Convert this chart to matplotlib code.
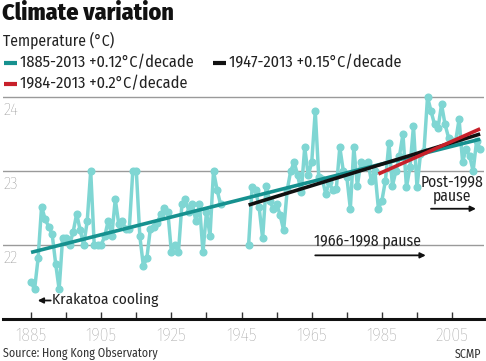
import numpy as np
import matplotlib
matplotlib.use("Agg")
import matplotlib.pyplot as plt
from matplotlib.lines import Line2D

FAM = ['Fira Sans Condensed', 'Roboto Condensed', 'PT Sans Narrow', 'Lato', 'DejaVu Sans']
plt.rcParams['font.family'] = FAM

# ---------------- data ----------------
years = list(range(1885, 2014))
temps = [
    21.50, 21.40, 21.82, 22.52, 22.35, 22.25, 22.15, 21.75, 21.40, 22.10,   # 1885-1894
    22.10, 22.00, 22.18, 22.42, 22.20, 22.00, 22.32, 23.00, 22.00, 22.00,   # 1895-1904
    22.00, 22.12, 22.33, 22.12, 22.62, 22.28, 22.32, 22.22, 22.22, 23.00,   # 1905-1914
    23.00, 22.12, 21.72, 21.82, 22.22, 22.24, 22.30, 22.42, 22.50, 22.44,   # 1915-1924
    21.90, 22.00, 21.90, 22.55, 22.62, 22.45, 22.55, 22.32, 22.55, 21.90,   # 1925-1934
    22.45, 22.12, 23.00, 22.75, 22.55, np.nan, np.nan, np.nan, np.nan, np.nan,  # 1935-1944
    np.nan, np.nan, 22.00, 22.78, 22.74, 22.51, 22.09, 22.80, 22.60, 22.49,  # 1945-1954
    22.56, 22.40, 22.20, 22.74, 23.00, 23.12, 22.94, 22.71, 23.32, 22.94,   # 1955-1964
    23.12, 23.81, 22.92, 22.89, 22.69, 22.85, 22.74, 22.76, 23.32, 23.00,   # 1965-1974
    22.92, 22.49, 23.32, 22.80, 23.12, 23.05, 23.12, 22.87, 23.00, 22.49,   # 1975-1984
    22.60, 22.87, 23.38, 22.80, 23.00, 23.20, 23.50, 22.78, 23.05, 23.61,   # 1985-1994
    22.78, 23.23, 23.27, 24.00, 23.81, 23.63, 23.58, 23.90, 23.63, 23.45,   # 1995-2004
    23.40, 23.40, 23.70, 23.12, 23.30, 23.20, 23.00, 23.41, 23.30,          # 2005-2013
]

trend_labels = ["1885-2013 +0.12°C/decade", "1947-2013 +0.15°C/decade", "1984-2013 +0.2°C/decade"]
trend_start_years = [1885, 1947, 1984]
trend_end_years = [2013, 2013, 2013]
trend_start_vals = [21.90, 22.54, 22.96]
trend_end_vals = [23.43, 23.50, 23.57]
trend_colors = ["#16918f", "#111111", "#c8202a"]

x_major = [1885, 1905, 1925, 1945, 1965, 1985, 2005]
x_minor = [1895, 1915, 1935, 1955, 1975, 1995]
y_grid = [22, 23, 24]

# ---------------- figure ----------------
W, H = 486, 361
fig = plt.figure(figsize=(W / 100, H / 100), dpi=100)

def fx(px):
    return px / W

def fy(py):
    return 1 - py / H

ax_left, ax_right = 3, 484
ax_bottom_px = 319
ax_top_px = 93.3
ax = fig.add_axes([fx(ax_left), fy(ax_bottom_px), fx(ax_right - ax_left), fy(ax_top_px) - fy(ax_bottom_px)])
ax.set_xlim(1877.0, 2014.1)
ax.set_ylim(21.0, 24.05)

# grid lines
for g in y_grid:
    ax.axhline(g, color="#9a9a9a", lw=1.0, zorder=1)
    ax.text(0.0, g - 0.075, str(g), transform=ax.get_yaxis_transform(), ha="left", va="top",
            fontsize=12.5, color="#8a8a8a", fontweight="light")

# data line
ax.plot(years, temps, color="#7fd6d3", lw=2.5, marker="o", ms=4.8, mfc="#7fd6d3", mec="#7fd6d3",
        zorder=3, clip_on=False)

# trend lines
for s, e, sv, ev, c in zip(trend_start_years, trend_end_years, trend_start_vals, trend_end_vals, trend_colors):
    ax.plot([s, e], [sv, ev], color=c, lw=2.6, solid_capstyle="butt", zorder=4)

# axes styling
for sp in ["top", "left", "right"]:
    ax.spines[sp].set_visible(False)
ax.spines["bottom"].set_color("#111111")
ax.spines["bottom"].set_linewidth(2.2)
ax.set_yticks([])
ax.set_xticks(x_major)
ax.set_xticklabels([str(v) for v in x_major])
ax.set_xticks(x_minor, minor=True)
ax.tick_params(axis="x", which="both", direction="in", length=5, width=1.0, color="#333333",
               labelsize=13, labelcolor="#999999", pad=6)
for lbl in ax.get_xticklabels():
    lbl.set_fontweight("light")
ax.patch.set_alpha(0)

# annotations
TXT = "#222222"
arrow_kw = dict(arrowstyle="-|>", color="#111111", lw=1.3, mutation_scale=8, shrinkA=0, shrinkB=0)
ax.annotate("", xy=(1886.9, 21.25), xytext=(1890.6, 21.25), arrowprops=arrow_kw)
ax.text(1891.0, 21.26, "Krakatoa cooling", ha="left", va="center", fontsize=11.1, color=TXT)

ax.text(1980.9, 22.06, "1966-1998 pause", ha="center", va="center", fontsize=11.3, color=TXT)
ax.annotate("", xy=(1997.5, 21.86), xytext=(1966.0, 21.86), arrowprops=arrow_kw)

ax.text(2004.9, 22.97, "Post-1998\npause", ha="center", va="top", fontsize=11.2, color=TXT,
        linespacing=0.92)
ax.annotate("", xy=(2011.8, 22.49), xytext=(1999.0, 22.49), arrowprops=arrow_kw)

# titles
fig.text(fx(2), fy(13.5), "Climate variation", ha="left", va="center", fontsize=17.3,
         fontweight="heavy", color="#111111")
fig.text(fx(3), fy(40.5), "Temperature (°C)", ha="left", va="center", fontsize=11.3, color=TXT)

# legend (manual, row-major)
leg_pos = [(4, 62.5), (213, 62.5), (4, 83.5)]
for (px, py), lab, c in zip(leg_pos, trend_labels, trend_colors):
    fig.add_artist(Line2D([fx(px), fx(px + 13)], [fy(py), fy(py)], color=c, lw=3,
                          solid_capstyle="butt", transform=fig.transFigure))
    fig.text(fx(px + 16), fy(py), lab, ha="left", va="center", fontsize=11.7, color=TXT)

# footer
fig.text(fx(3), fy(354), "Source: Hong Kong Observatory", ha="left", va="center", fontsize=8.6,
         color="#333333")
fig.text(fx(481), fy(354), "SCMP", ha="right", va="center", fontsize=8.6, color="#333333")

fig.savefig("out.png", dpi=100)
